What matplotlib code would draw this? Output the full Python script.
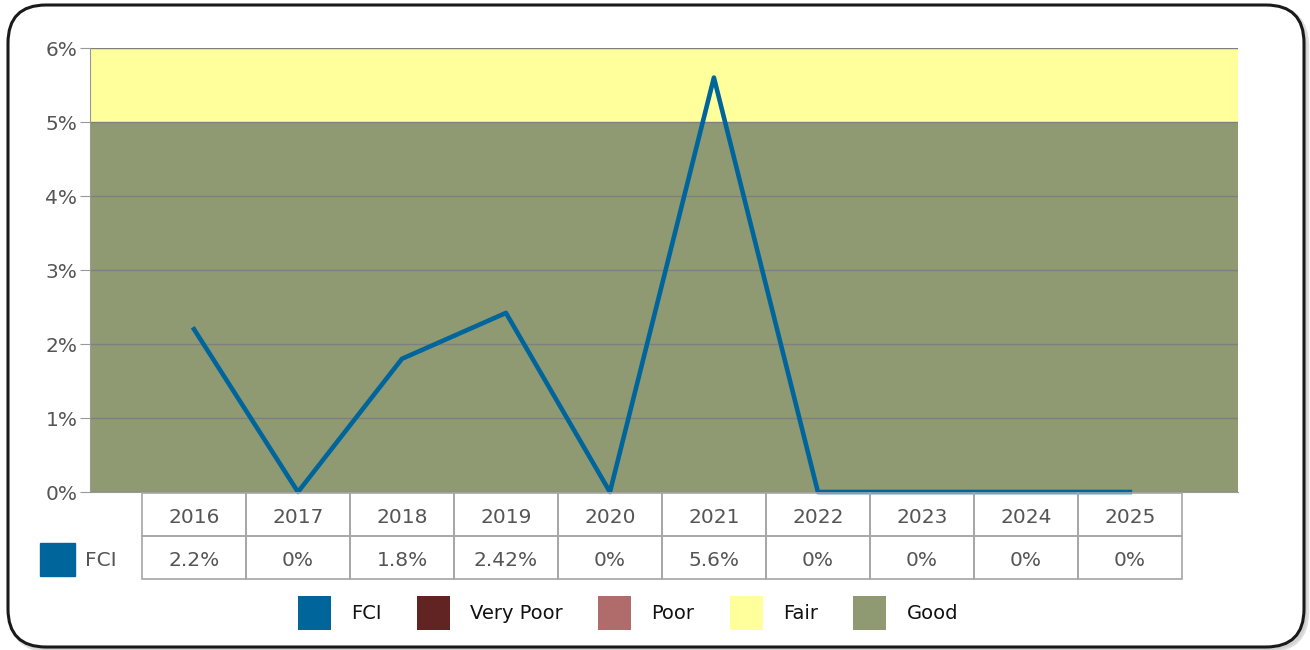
import matplotlib
matplotlib.use('Agg')
import matplotlib.pyplot as plt
from matplotlib.patches import FancyBboxPatch, Rectangle, Patch

# data
years = ['2016', '2017', '2018', '2019', '2020', '2021', '2022', '2023', '2024', '2025']
fci = [2.2, 0, 1.8, 2.42, 0, 5.6, 0, 0, 0, 0]
fci_labels = ['2.2%', '0%', '1.8%', '2.42%', '0%', '5.6%', '0%', '0%', '0%', '0%']
y_ticks = [0, 1, 2, 3, 4, 5, 6]
bands = [(0, 5, 'Good'), (5, 6, 'Fair')]
legend_names = ['FCI', 'Very Poor', 'Poor', 'Fair', 'Good']
colors = {'FCI': '#00659b', 'Very Poor': '#622323', 'Poor': '#b06b6b',
          'Fair': '#ffff9c', 'Good': '#8f9a72'}

W, H = 1310, 650
FS = 14.5
fig = plt.figure(figsize=(W / 100, H / 100), dpi=100)

# rounded frame, in pixel coords
bg = fig.add_axes([0, 0, 1, 1])
bg.set_xlim(0, W); bg.set_ylim(H, 0); bg.axis('off')
bg.add_patch(FancyBboxPatch((11, 8), 1296, 642, boxstyle='round,pad=0,rounding_size=38',
                            fc='#c8c8c8', ec='#c8c8c8', lw=3, alpha=0.6))
bg.add_patch(FancyBboxPatch((8, 5), 1296, 642, boxstyle='round,pad=0,rounding_size=38',
                            fc='white', ec='#1a1a1a', lw=2.2))

# main plot
ax = fig.add_axes([90 / W, (H - 492) / H, 1148 / W, 444 / H])
ax.set_xlim(-1, 10.04)
ax.set_ylim(0, 6)
for lo, hi, name in bands:
    ax.axhspan(lo, hi, color=colors[name], zorder=0, lw=0)
ax.set_yticks(y_ticks)
ax.set_yticklabels([f'{v}%' for v in y_ticks])
ax.set_xticks([])
ax.yaxis.grid(True, color='#7f7f7f', lw=1)
ax.tick_params(axis='y', length=7, color='#999999', labelcolor='#555555', labelsize=FS, pad=2)
for s in ['top', 'right']:
    ax.spines[s].set_visible(False)
for s in ['left', 'bottom']:
    ax.spines[s].set_color('#999999')
ax.plot(range(len(years)), fci, color=colors['FCI'], lw=3.3, clip_on=False, zorder=3)

# data table under the plot
tax = fig.add_axes([90 / W, (H - 579) / H, 1148 / W, 86 / H])
tax.set_xlim(-1, 10.04)
tax.set_ylim(2, 0)
tax.axis('off')
for i, (yr, lab) in enumerate(zip(years, fci_labels)):
    for r, txt in enumerate([yr, lab]):
        tax.add_patch(Rectangle((i - 0.5, r), 1, 1, fill=False, ec='#a6a6a6', lw=1.2, clip_on=False))
        tax.text(i, r + 0.56, txt, ha='center', va='center', fontsize=FS, color='#555555')

bg.add_patch(Rectangle((40, 543), 35, 33, color=colors['FCI']))
bg.text(85, 561, 'FCI', ha='left', va='center', fontsize=FS, color='#555555')

# legend
handles = [Patch(fc=colors[n], ec='none') for n in legend_names]
fig.legend(handles, legend_names, loc='center', bbox_to_anchor=(628 / W, 1 - 613 / H),
           ncol=5, frameon=False, fontsize=14, handlelength=1.7, handleheight=2.3,
           handletextpad=1.05, columnspacing=1.8, labelcolor='#111111')

fig.savefig('out.png', dpi=100)
